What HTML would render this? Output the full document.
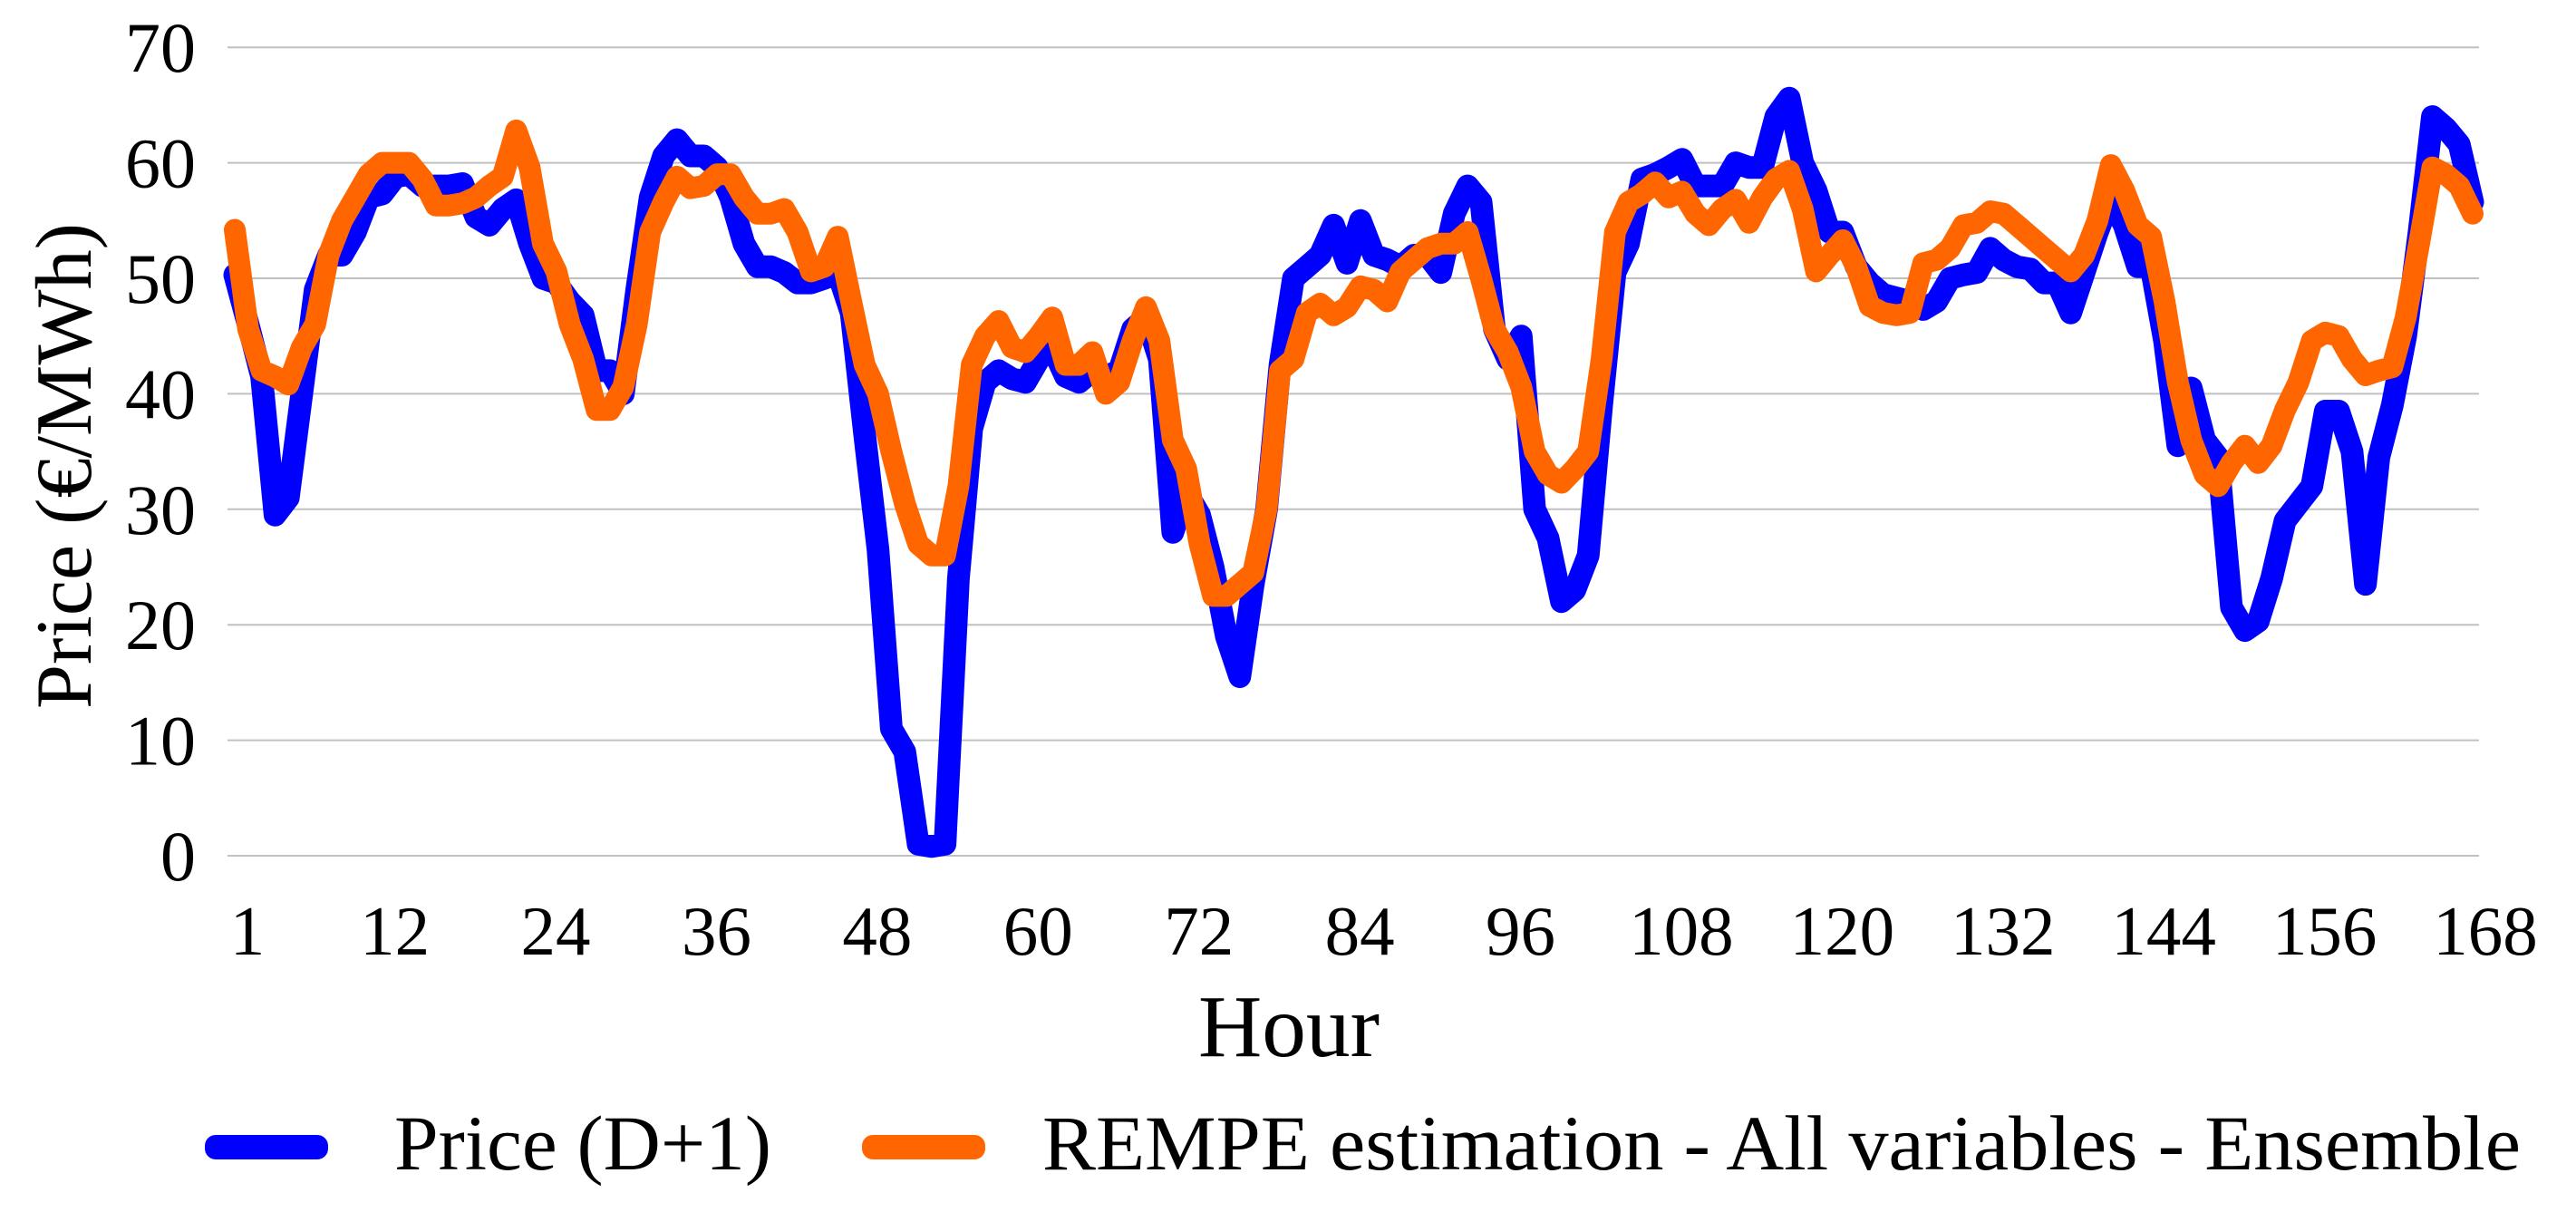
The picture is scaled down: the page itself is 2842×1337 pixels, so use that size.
<!DOCTYPE html>
<html><head><meta charset="utf-8"><style>
html,body{margin:0;padding:0;background:#fff;}
svg{display:block;font-family:"Liberation Serif","Times New Roman",serif;}
</style></head><body>
<svg id="chart" width="2842" height="1337" viewBox="0 0 2842 1337" xmlns="http://www.w3.org/2000/svg">
<g id="grid"></g>
<g id="yticks"></g>
<g id="xticks"></g>
<g id="series"></g>
<text transform="translate(100,514) rotate(-90)" text-anchor="middle" font-size="88" textLength="536" lengthAdjust="spacingAndGlyphs">Price (€/MWh)</text>
<text x="1422" y="1165" text-anchor="middle" font-size="98" textLength="200" lengthAdjust="spacingAndGlyphs">Hour</text>
<g>
<rect x="226" y="1252" width="136" height="27" rx="12" fill="#0000FF"/>
<text x="435" y="1290" font-size="86" textLength="416" lengthAdjust="spacingAndGlyphs">Price (D+1)</text>
<rect x="951" y="1252" width="136" height="27" rx="12" fill="#FF6600"/>
<text x="1150" y="1290" font-size="86" textLength="1631" lengthAdjust="spacingAndGlyphs">REMPE estimation - All variables - Ensemble</text>
</g>
</svg>
<script>
const yTicks = [0,10,20,30,40,50,60,70];
const xTickLabels = [1,12,24,36,48,60,72,84,96,108,120,132,144,156,168];
const priceD1 = [50.3,46,41.5,29.5,31,40,49,52,52,54,57,57.3,58.8,59,58,58,58,58.2,55.3,54.6,56,56.8,53,50,49.6,48,46.8,42,42,40,49,57,60.6,62,60.6,60.6,59.6,57,53,51,51,50.5,49.6,49.6,50,50.5,47,36.5,26.5,11,9,1,0.8,1,24,37,41,42,41.3,41,43,44,41.5,41,42,41.5,42,45.6,46.6,43,28,31.5,29.5,25,19,15.5,23.5,30,42.5,50,51,52,54.6,51.3,55,52,51.6,51,52,52,50.5,55.6,58,56.6,45.6,43,45,30,27.5,22,23,26,39,50.5,53,58.6,59,59.6,60.3,58,58,58,60,59.6,59.6,64,65.6,60,57.6,54,54,51,49.6,48.6,48.3,48,47.3,48,50,50.3,50.5,52.6,51.6,51,50.8,49.6,49.6,47,50.5,54,57,54.6,51,51,44.6,35.5,40.5,36,34.5,21.5,19.5,20.3,24,29,30.5,32,38.5,38.5,35,23.5,34.5,39,45,54,64,63,61.6,56.6];
const rempeEstimate = [54.2,45.6,42,41.5,40.8,44,46,52,55,57,59,60,60,60,58.6,56.3,56.3,56.5,57,58,58.8,62.8,59.6,53,50.6,46,43,38.6,38.6,40.6,46,54,56.6,58.8,57.8,58,59,59,57,55.6,55.6,56,54,50.6,51,53.6,48,42.5,40,35,30.5,27,26,26,32,42.5,45,46.3,44,43.6,45,46.6,42.5,42.5,43.6,40,41,44.6,47.5,44.6,36,33.5,27,22.5,22.5,23.5,24.5,30,42,43,47,47.8,46.8,47.5,49.3,49,48,50.6,51.6,52.6,53,53,54,50,45.6,43.6,40.6,35,33,32.3,33.5,35,43,54,56.6,57.3,58.3,57,57.5,55.6,54.6,56,56.8,54.8,57,58.6,59.3,56,50.6,52,53.3,51,47.6,47,46.8,47,51.3,51.6,52.6,54.6,54.8,55.8,55.6,54.6,53.6,52.6,51.6,50.6,52,55,59.8,57.6,54.6,53.6,48,41,36,33,32,34,35.5,34,35.5,38.6,41,44.6,45.3,45,43,41.6,42,42.3,46.6,53,59.6,59,58,55.6];

const NS = "http://www.w3.org/2000/svg";
const X0 = 259, X1 = 2728, Y0 = 944, YPER = 12.74;
function xScale(h){ return X0 + (h-1)*(X1-X0)/167; }
function yScale(v){ return Y0 - v*YPER; }
function mk(tag, attrs, parent){ const e=document.createElementNS(NS,tag); for(const k in attrs) e.setAttribute(k,attrs[k]); parent.appendChild(e); return e; }

const grid=document.getElementById('grid'), yt=document.getElementById('yticks'), xt=document.getElementById('xticks'), ser=document.getElementById('series');
yTicks.forEach(v=>{
  const l=mk('line',{x1:251,x2:2735,y1:yScale(v),y2:yScale(v),stroke:'#c0c0c0','stroke-width':2},grid);
  
  
  const t=mk('text',{x:216,y:yScale(v)+27,'text-anchor':'end','font-size':78},yt);
  
  
  t.textContent=v;
});
xTickLabels.forEach(h=>{
  const t=mk('text',{x:xScale(h)+14,y:1053,'text-anchor':'middle','font-size':77},xt);
  
  
  t.textContent=h;
});
function drawLine(arr,color,name,w){
  const d=arr.map((v,i)=>(i?'L':'M')+xScale(i+1).toFixed(1)+' '+yScale(v).toFixed(1)).join(' ');
  const p=mk('path',{d:d,fill:'none',stroke:color,'stroke-width':w,'stroke-linejoin':'round','stroke-linecap':'round'},ser);
  
  
}
drawLine(priceD1,'#0000FF','price-d1-line',25);
drawLine(rempeEstimate,'#FF6600','rempe-estimate-line',24);
</script>
</body></html>
